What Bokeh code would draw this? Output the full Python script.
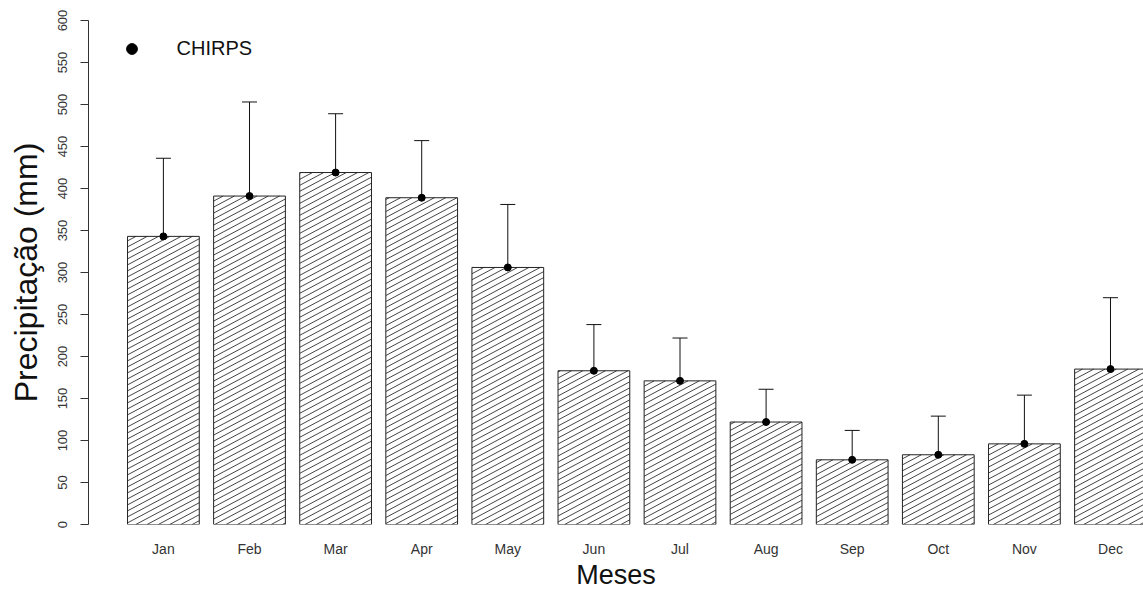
import math
from bokeh.plotting import figure
from bokeh.models import (Range1d, FixedTicker, ColumnDataSource, Whisker, TeeHead,
                          Legend, LegendItem)
from bokeh.embed import file_html
from bokeh.resources import INLINE

months = ["Jan", "Feb", "Mar", "Apr", "May", "Jun", "Jul", "Aug", "Sep", "Oct", "Nov", "Dec"]
precip = [343, 391, 419, 389, 306, 183, 171, 122, 77, 83, 96, 185]
upper = [436, 503, 489, 457, 381, 238, 222, 161, 112, 129, 154, 270]
lower = [249, 280, 349, 322, 231, 128, 120, 83, 41, 37, 38, 100]
y_ticks = [0, 50, 100, 150, 200, 250, 300, 350, 400, 450, 500, 550, 600]

FONT = "Liberation Sans"

# R barplot layout: width 1, space 0.2
BAR_W = 1.0
centers = [0.7 + 1.2 * i for i in range(len(months))]

X0, X1 = -0.344, 14.36
Y0, Y1 = 0, 600
FRAME_W, FRAME_H = 1055, 504

src = ColumnDataSource(dict(x=centers, top=precip, upper=upper, lower=lower))

p = figure(width=1143, height=592, output_backend="svg", toolbar_location=None,
           x_range=Range1d(X0, X1), y_range=Range1d(Y0, Y1),
           min_border_left=88, min_border_right=0, min_border_top=20, min_border_bottom=68)
p.outline_line_color = None
p.xgrid.visible = False
p.ygrid.visible = False
p.background_fill_color = "white"
p.border_fill_color = "white"

p.vbar(x="x", top="top", width=BAR_W, bottom=0, source=src,
       fill_color="white", line_color=None)

# diagonal shading (R-style density lines), derived from each bar's extent
px_x = FRAME_W / (X1 - X0)
px_y = FRAME_H / (Y1 - Y0)
angle = math.radians(28)
slope = math.tan(angle) * px_x / px_y          # data-y per data-x
spacing = 6.0 / px_y                            # vertical gap between lines in data-y
hx, hy = [], []
for c, t in zip(centers, precip):
    L, R = c - BAR_W / 2, c + BAR_W / 2
    kmin = math.floor((0 - slope * R) / spacing)
    kmax = math.ceil((t - slope * L) / spacing)
    for k in range(kmin, kmax + 1):
        b = k * spacing
        xa_ = max(L, (0 - b) / slope)
        xb_ = min(R, (t - b) / slope)
        if xb_ > xa_:
            hx.append([xa_, xb_])
            hy.append([slope * xa_ + b, slope * xb_ + b])
p.multi_line(xs=hx, ys=hy, line_color="#444444", line_width=1)

p.vbar(x="x", top="top", width=BAR_W, bottom=0, source=src,
       fill_color=None, line_color="#222222", line_width=1)

w = Whisker(base="x", upper="upper", lower="lower", source=src,
            line_color="#111111", line_width=1,
            upper_head=TeeHead(size=15, line_color="#111111", line_width=1),
            lower_head=TeeHead(size=15, line_color="#111111", line_width=1))
p.add_layout(w)

pts = p.scatter(x="x", y="top", source=src, size=7, color="black")

# legend
legend = Legend(items=[LegendItem(label="CHIRPS", renderers=[pts])],
                location=(29.5, 462), glyph_width=27, glyph_height=27,
                label_standoff=32, padding=0, margin=0,
                border_line_color=None, background_fill_alpha=0,
                label_text_font=FONT, label_text_font_size="20px",
                label_text_color="#111111")
p.add_layout(legend)

# y axis
ya = p.yaxis[0]
ya.ticker = FixedTicker(ticks=y_ticks)
ya.major_label_orientation = "vertical"
ya.major_label_text_font = FONT
ya.major_label_text_font_size = "13px"
ya.major_label_text_color = "#333333"
ya.major_tick_out = 8
ya.major_tick_in = 0
ya.minor_tick_out = 0
ya.minor_tick_in = 0
ya.major_label_standoff = 14
ya.axis_line_color = "#333333"
ya.major_tick_line_color = "#333333"
ya.axis_label = "Precipitação (mm)"
ya.axis_label_text_font = FONT
ya.axis_label_text_font_size = "32px"
ya.axis_label_text_font_style = "normal"
ya.axis_label_text_color = "#111111"
ya.axis_label_standoff = 11

# x axis
xa = p.xaxis[0]
xa.ticker = FixedTicker(ticks=centers)
xa.major_label_overrides = {c: m for c, m in zip(centers, months)}
xa.axis_line_color = None
xa.major_tick_line_color = None
xa.minor_tick_line_color = None
xa.major_tick_out = 0
xa.major_tick_in = 0
xa.major_label_standoff = 16
xa.major_label_text_font = FONT
xa.major_label_text_font_size = "14px"
xa.major_label_text_color = "#333333"
xa.axis_label = "Meses"
xa.axis_label_text_font = FONT
xa.axis_label_text_font_size = "27px"
xa.axis_label_text_font_style = "normal"
xa.axis_label_text_color = "#111111"
xa.axis_label_standoff = 0

open("out.html", "w").write(file_html(p, INLINE))
